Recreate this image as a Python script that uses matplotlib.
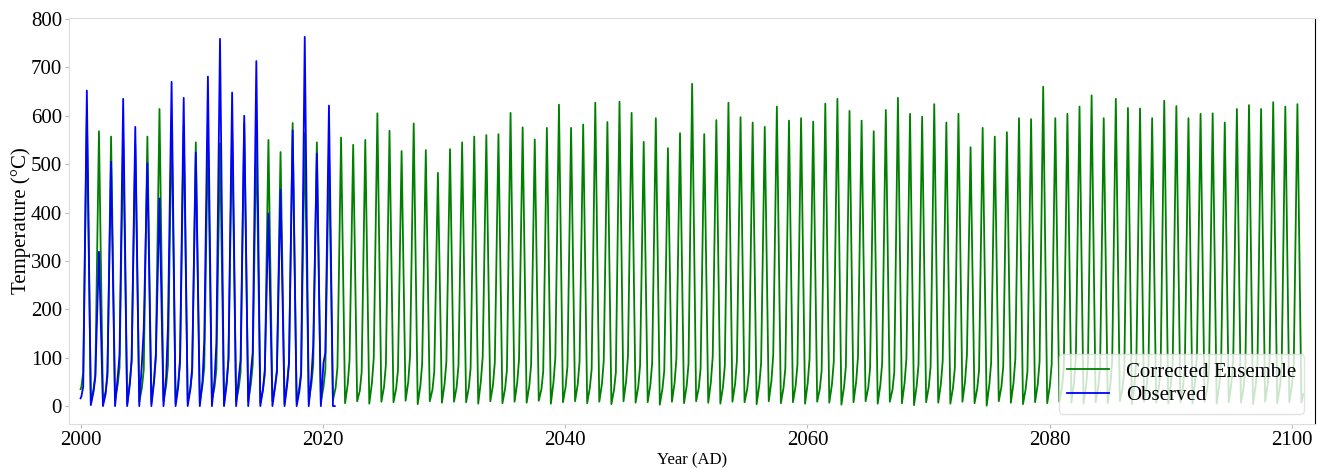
import numpy as np
import matplotlib
matplotlib.use('Agg')
from matplotlib import pyplot as plt

plt.rcParams['font.family'] = ['Liberation Serif', 'DejaVu Serif']
plt.rcParams['mathtext.fontset'] = 'stix'

# ---- data (one value per year) ----
ens_years = list(range(2000, 2101))
ens_peak = [600, 568, 557, 560, 540, 557, 614, 590, 580, 545, 560, 543, 570, 585, 560, 550, 525, 585, 564, 545, 523,
            555, 540, 550, 605, 569, 527, 584, 529, 482, 531,
            545, 557, 560, 562, 606, 576, 551, 575, 623, 575,
            582, 627, 587, 629, 606, 546, 595, 533, 564, 666,
            562, 591, 627, 597, 586, 577, 619, 590, 595, 588,
            625, 635, 610, 590, 568, 612, 637, 604, 598, 624,
            586, 604, 535, 575, 557, 566, 595, 593, 660, 595,
            604, 619, 642, 595, 635, 616, 615, 595, 631, 620,
            595, 604, 605, 586, 614, 622, 614, 628, 619, 624]
ens_trough = [8, 10, 12, 5, 9, 7, 11, 6, 10, 8, 12, 5, 9, 10, 7, 11, 6, 9, 10, 8, 12,
              6, 10, 5, 9, 8, 11, 4, 10, 7, 9,
              8, 5, 10, 6, 9, 7, 11, 5, 8, 10,
              6, 9, 4, 10, 7, 8, 3, 9, 6, 10,
              7, 5, 9, 8, 4, 10, 6, 8, 5, 9,
              7, 3, 8, 10, 5, 9, 6, 2, 8, 7,
              5, 9, 6, 1, 10, 7, 4, 8, 6, 9,
              7, 5, 8, 6, 10, 4, 9, 7, 5, 8,
              6, 9, 5, 8, 7, 4, 9, 6, 8, 7]
ens_winter = [40, 35, 30, 45, 50, 38, 55, 42, 48, 36, 44, 40, 52, 38, 46, 34, 42, 50, 38, 46, 40,
              38, 45, 32, 48, 40, 36, 50, 42, 34, 46,
              40, 38, 52, 44, 36, 48, 42, 35, 50, 40,
              45, 38, 46, 34, 52, 40, 44, 36, 48, 42,
              38, 50, 40, 46, 35, 44, 52, 38, 42, 48,
              36, 45, 40, 50, 38, 44, 34, 48, 42, 40,
              46, 38, 52, 36, 44, 40, 48, 35, 45, 42,
              38, 50, 44, 40, 46, 36, 48, 42, 38, 45,
              40, 52, 36, 44, 48, 38, 42, 46, 40, 44]
ens_shoulder = [70, 65, 60, 80, 95, 75, 110, 85, 90, 70, 80, 75, 95, 70, 85, 65, 75, 90, 70, 85, 75,
                80, 95, 70, 100, 85, 75, 105, 88, 72, 92,
                85, 78, 102, 90, 74, 96, 86, 72, 100, 82,
                92, 76, 94, 70, 104, 84, 90, 74, 98, 86,
                78, 102, 84, 94, 72, 90, 106, 78, 86, 98,
                74, 92, 82, 102, 78, 90, 70, 98, 86, 82,
                94, 78, 106, 74, 90, 82, 98, 72, 92, 86,
                78, 102, 90, 82, 94, 74, 98, 86, 78, 92,
                82, 106, 74, 90, 98, 78, 86, 94, 82, 90]
ens_start, ens_end = 35, 25

obs_years = list(range(2000, 2021))
obs_peak = [652, 319, 505, 635, 577, 502, 429, 670, 637, 524, 681, 759, 648, 600, 713, 398, 447, 570, 763, 522, 621]
obs_trough = [2, 0, 0, 0, 0, 0, 0, 0, 0, 0, 0, 0, 0, 0, 0, 0, 0, 0, 0, 0, 0]
obs_winter = [20, 30, 25, 60, 45, 90, 50, 60, 40, 35, 50, 55, 45, 60, 70, 35, 40, 45, 30, 60, 90]
obs_shoulder = [40, 60, 70, 105, 95, 160, 100, 165, 100, 80, 135, 130, 100, 95, 110, 75, 70, 90, 65, 125, 110]
obs_start, obs_end = 16, 0


def build(years, peak, trough, winter, shoulder, start, end):
    # one seasonal cycle per year: winter level, slow rise, summer spike, drop
    t = [years[0] - 0.05]
    v = [start]
    for i, y in enumerate(years):
        t += [y + 0.02, y + 0.17, y + 0.47, y + 0.80]
        v += [winter[i], shoulder[i], peak[i], trough[i]]
    t.append(years[-1] + 0.95)
    v.append(end)
    return np.array(t), np.array(v)


t_ens, v_ens = build(ens_years, ens_peak, ens_trough, ens_winter, ens_shoulder, ens_start, ens_end)
t_obs, v_obs = build(obs_years, obs_peak, obs_trough, obs_winter, obs_shoulder, obs_start, obs_end)

fig = plt.figure(figsize=(13.28, 4.68), dpi=100)
ax = fig.add_axes([0.052, 0.094, 0.938, 0.8675])

ax.plot(t_ens, v_ens, color='green', lw=1.3, label='Corrected Ensemble')
ax.plot(t_obs, v_obs, color='blue', lw=1.3, label='Observed')

ax.set_xlim(1999.0, 2101.9)
ax.set_ylim(-37, 802)
ax.set_xticks([2000, 2020, 2040, 2060, 2080, 2100])
ax.set_yticks(range(0, 801, 100))
ax.tick_params(axis='both', labelsize=15, length=3, color='#bbbbbb', pad=2)

for side in ['left', 'top', 'bottom']:
    ax.spines[side].set_color('#dddddd')
ax.spines['right'].set_color('black')

ax.set_xlabel('Year (AD)', fontsize=12, labelpad=2)
ax.set_ylabel('Temperature (°C)', fontsize=15, labelpad=0)

leg = ax.legend(loc='lower right', fontsize=15, framealpha=0.8, edgecolor='#dddddd',
                handlelength=2.0, labelspacing=0.2)

fig.savefig('out.png', dpi=100)
